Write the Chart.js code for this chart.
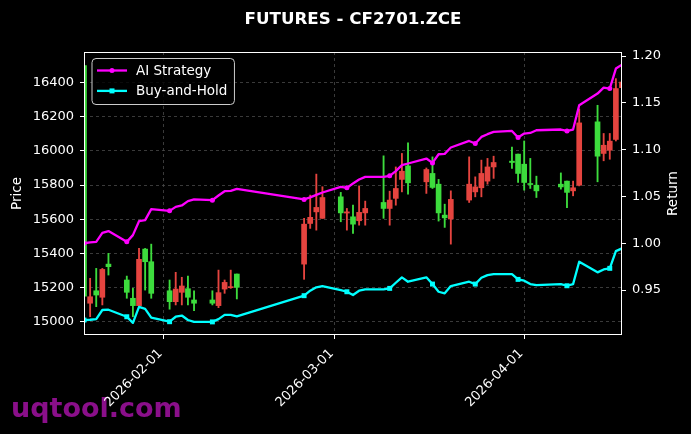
<!DOCTYPE html>
<html>
<head>
<meta charset="utf-8">
<script src="https://cdn.jsdelivr.net/npm/chart.js@4.4.1/dist/chart.umd.min.js"></script>
<style>
  html, body { margin: 0; padding: 0; background: #000; }
</style>
</head>
<body>
<canvas id="chart" width="691" height="434"></canvas>
<script>
// trading days shown on the chart
const dates = [
  '2026-01-19', '2026-01-20', '2026-01-21', '2026-01-22', '2026-01-23',
  '2026-01-26', '2026-01-27', '2026-01-28', '2026-01-29', '2026-01-30',
  '2026-02-02', '2026-02-03', '2026-02-04', '2026-02-05', '2026-02-06',
  '2026-02-09', '2026-02-10', '2026-02-11', '2026-02-12', '2026-02-13',
  '2026-02-24', '2026-02-25', '2026-02-26', '2026-02-27',
  '2026-03-02', '2026-03-03', '2026-03-04', '2026-03-05', '2026-03-06',
  '2026-03-09', '2026-03-10', '2026-03-11', '2026-03-12', '2026-03-13',
  '2026-03-16', '2026-03-17', '2026-03-18', '2026-03-19', '2026-03-20',
  '2026-03-23', '2026-03-24', '2026-03-25', '2026-03-26', '2026-03-27',
  '2026-03-30', '2026-03-31', '2026-04-01', '2026-04-02', '2026-04-03',
  '2026-04-07', '2026-04-08', '2026-04-09', '2026-04-10',
  '2026-04-13', '2026-04-14', '2026-04-15', '2026-04-16', '2026-04-17'
];

// OHLC prices
const opens = [
  16500, 15108, 15181, 15143, 15337, 15244, 15137, 15094, 15425, 15351,
  15181, 15117, 15172, 15193, 15127, 15127, 15094, 15191, 15199, 15279,
  15337, 15575, 15643, 15605, 15731, 15636, 15614, 15591, 15637,
  15698, 15663, 15722, 15833, 15912, 15819, 15868, 15805, 15624, 15601,
  15712, 15760, 15784, 15823, 15906, 15940, 15981, 15922, 15808, 15799,
  15805, 15823, 15766, 15799, 16170, 15985, 16004, 16067, 16370
];
const highs = [
  16510, 15254, 15312, 15312, 15400, 15267, 15195, 15429, 15429, 15454,
  15244, 15289, 15260, 15267, 15181, 15181, 15302, 15244, 15302, 15279,
  15605, 15741, 15864, 15790, 15757, 15663, 15682, 15795, 15706,
  15971, 15764, 15906, 15985, 16047, 15900, 15965, 15833, 15688, 15766,
  15965, 15848, 15946, 15956, 15969, 16023, 15981, 16058, 15956, 15852,
  15871, 15823, 15823, 16245, 16267, 16102, 16102, 16423, 16410
];
const lows = [
  15140, 15029, 15088, 15098, 15273, 15137, 15029, 15088, 15185, 15137,
  15073, 15098, 15098, 15098, 15064, 15098, 15082, 15166, 15195, 15133,
  15248, 15546, 15536, 15605, 15585, 15536, 15517, 15565, 15565,
  15605, 15565, 15682, 15760, 15747, 15751, 15780, 15589, 15552, 15454,
  15698, 15731, 15731, 15805, 15839, 15897, 15815, 15770, 15780, 15727,
  15776, 15667, 15737, 15795, 15819, 15942, 15951, 16058, 16360
];
const closes = [
  15150, 15146, 15156, 15306, 15322, 15172, 15094, 15365, 15351, 15166,
  15117, 15191, 15209, 15143, 15108, 15108, 15170, 15230, 15205, 15201,
  15571, 15611, 15669, 15727, 15637, 15643, 15571, 15640, 15663,
  15663, 15712, 15780, 15881, 15813, 15891, 15786, 15637, 15608, 15716,
  15805, 15789, 15868, 15906, 15932, 15932, 15868, 15815, 15803, 15766,
  15789, 15757, 15784, 16164, 15969, 16033, 16057, 16365, 16403
];

// cumulative returns
const aiReturn = [
  1.000, 1.001, 1.0015, 1.011, 1.013, 1.0015, 1.0087, 1.0236, 1.0247, 1.0364,
  1.0346, 1.0389, 1.0404, 1.045, 1.0468, 1.046, 1.051, 1.0556, 1.056, 1.058,
  1.0468, 1.049, 1.0517, 1.0542, 1.0602, 1.0592, 1.0638, 1.0681, 1.0709,
  1.0709, 1.072, 1.077, 1.0834, 1.0852, 1.0905, 1.0858, 1.0951, 1.0955, 1.1023,
  1.1093, 1.1065, 1.1136, 1.1165, 1.1189, 1.12, 1.1129, 1.1172, 1.1178, 1.1207,
  1.1215, 1.12, 1.1215, 1.1474, 1.1599, 1.1663, 1.1652, 1.1866, 1.1908
];
const bhReturn = [
  0.918, 0.9183, 0.919, 0.9287, 0.929, 0.9215, 0.915, 0.932, 0.930, 0.9205,
  0.9162, 0.9215, 0.9228, 0.918, 0.916, 0.916, 0.919, 0.9235, 0.9235, 0.922,
  0.944, 0.9493, 0.9529, 0.9543, 0.95, 0.9482, 0.9447, 0.9493, 0.9507,
  0.9507, 0.9518, 0.9578, 0.9636, 0.9589, 0.9636, 0.9564, 0.9482, 0.9465, 0.9543,
  0.9589, 0.9564, 0.9631, 0.966, 0.967, 0.967, 0.9614, 0.96, 0.9564, 0.9553,
  0.9564, 0.9546, 0.9564, 0.9802, 0.9689, 0.972, 0.9732, 0.9916, 0.9945
];

// axis ticks
const dateTicks = ['2026-02-01', '2026-03-01', '2026-04-01'];
const priceTicks = [15000, 15200, 15400, 15600, 15800, 16000, 16200, 16400];
const returnTicks = [0.95, 1.00, 1.05, 1.10, 1.15, 1.20];

const FONT = 'DejaVu Sans';
const UP = '#e5443f';
const DOWN = '#3ddc3d';
const DAY = 86400000;
const t0 = Date.parse(dates[0]);
const dayOf = d => Math.round((Date.parse(d) - t0) / DAY);
const xs = dates.map(dayOf);
const tickDays = dateTicks.map(dayOf);
const candleColors = opens.map((o, i) => closes[i] >= o ? UP : DOWN);

// background, watermark, frame, title, axis titles and legend
const decor = {
  id: 'decor',
  beforeDraw(chart) {
    const c = chart.ctx;
    c.save();
    c.fillStyle = '#000';
    c.fillRect(0, 0, chart.width, chart.height);
    c.font = `bold 27px ${FONT}`;
    c.fillStyle = '#8a0f8a';
    c.textBaseline = 'alphabetic';
    c.fillText('uqtool.com', 11, 417);
    c.restore();
  },
  afterDraw(chart) {
    const c = chart.ctx;
    const a = chart.chartArea;
    c.save();

    // frame
    c.strokeStyle = '#fff';
    c.lineWidth = 1;
    c.strokeRect(a.left + 0.5, a.top + 0.5, a.right - a.left - 1, a.bottom - a.top - 1);

    // title
    c.fillStyle = '#fff';
    c.font = `bold 16.7px ${FONT}`;
    c.textAlign = 'center';
    c.textBaseline = 'alphabetic';
    c.fillText('FUTURES - CF2701.ZCE', (a.left + a.right) / 2, 24);

    // axis titles
    c.font = `13.5px ${FONT}`;
    c.textBaseline = 'middle';
    const midY = (a.top + a.bottom) / 2;
    c.save();
    c.translate(17, midY);
    c.rotate(-Math.PI / 2);
    c.fillText('Price', 0, 0);
    c.restore();
    c.save();
    c.translate(673, midY);
    c.rotate(-Math.PI / 2);
    c.fillText('Return', 0, 0);
    c.restore();

    // legend
    const items = chart.data.datasets.filter(d => d.type === 'line');
    const lx = a.left + 8, ly = a.top + 6.5;
    c.font = `13.5px ${FONT}`;
    const tw = Math.max(...items.map(d => c.measureText(d.label).width));
    const w = 5 + 30 + 9 + tw + 7, h = 46;
    c.beginPath();
    c.roundRect(lx, ly, w, h, 4);
    c.fillStyle = 'rgba(0,0,0,0.8)';
    c.fill();
    c.strokeStyle = '#cccccc';
    c.lineWidth = 1;
    c.stroke();
    c.textAlign = 'left';
    items.forEach((d, k) => {
      const y = ly + 12 + k * 20.4;
      c.strokeStyle = d.borderColor;
      c.lineWidth = d.borderWidth;
      c.beginPath();
      c.moveTo(lx + 5, y);
      c.lineTo(lx + 35, y);
      c.stroke();
      c.fillStyle = d.borderColor;
      if (d.pointStyle === 'rect') {
        c.fillRect(lx + 20 - 2.5, y - 2.5, 5, 5);
      } else {
        c.beginPath();
        c.arc(lx + 20, y, 2.5, 0, Math.PI * 2);
        c.fill();
      }
      c.fillStyle = '#fff';
      c.fillText(d.label, lx + 44, y + 0.5);
    });
    c.restore();
  }
};

const gridStyle = {
  color: '#4a4a4a',
  lineWidth: 0.8,
  tickColor: '#fff',
  tickLength: 4,
  tickWidth: 1,
  tickBorderDash: [],
  offset: false
};

new Chart(document.getElementById('chart'), {
  type: 'bar',
  data: {
    datasets: [
      {
        type: 'line',
        label: 'AI Strategy',
        data: xs.map((x, i) => ({ x: x, y: aiReturn[i] })),
        yAxisID: 'y1',
        borderColor: '#ff00ff',
        backgroundColor: '#ff00ff',
        borderWidth: 2.3,
        borderJoinStyle: 'round',
        pointStyle: 'circle',
        pointRadius: ctx => ctx.dataIndex % 5 === 0 ? 2.5 : 0,
        pointBorderWidth: 0,
        tension: 0,
        order: 1
      },
      {
        type: 'line',
        label: 'Buy-and-Hold',
        data: xs.map((x, i) => ({ x: x, y: bhReturn[i] })),
        yAxisID: 'y1',
        borderColor: '#00ffff',
        backgroundColor: '#00ffff',
        borderWidth: 2.3,
        borderJoinStyle: 'round',
        pointStyle: 'rect',
        pointRadius: ctx => ctx.dataIndex % 5 === 0 ? 3.5 : 0,
        pointBorderWidth: 0,
        tension: 0,
        order: 0
      },
      {
        label: 'Body',
        data: xs.map((x, i) => ({ x: x, y: [opens[i], closes[i]] })),
        yAxisID: 'y',
        backgroundColor: candleColors,
        grouped: false,
        categoryPercentage: 1,
        barPercentage: 1,
        maxBarThickness: 5,
        minBarLength: 1,
        borderWidth: 0,
        order: 2
      },
      {
        label: 'Wick',
        data: xs.map((x, i) => ({ x: x, y: [lows[i], highs[i]] })),
        yAxisID: 'y',
        backgroundColor: candleColors,
        grouped: false,
        categoryPercentage: 1,
        barPercentage: 1,
        maxBarThickness: 1.2,
        borderWidth: 0,
        order: 3
      }
    ]
  },
  options: {
    responsive: false,
    animation: false,
    devicePixelRatio: 1,
    layout: { padding: { top: 52, left: 0, right: 0, bottom: 0 } },
    plugins: {
      legend: { display: false },
      title: { display: false },
      tooltip: { enabled: false }
    },
    scales: {
      x: {
        type: 'linear',
        min: 0,
        max: xs[xs.length - 1],
        offset: false,
        afterBuildTicks: s => { s.ticks = tickDays.map(v => ({ value: v })); },
        afterFit: s => { s.height = 99; },
        ticks: {
          autoSkip: false,
          maxRotation: 45,
          minRotation: 45,
          color: '#fff',
          padding: 7,
          labelOffset: -3,
          font: { family: FONT, size: 13 },
          callback: v => dateTicks[tickDays.indexOf(v)]
        },
        grid: gridStyle,
        border: { display: false, dash: [3, 3] }
      },
      y: {
        position: 'left',
        min: 14922,
        max: 16579,
        afterBuildTicks: s => { s.ticks = priceTicks.map(v => ({ value: v })); },
        afterFit: s => { s.width = 84; },
        ticks: {
          color: '#fff',
          padding: 6,
          font: { family: FONT, size: 13 },
          callback: v => String(v)
        },
        grid: gridStyle,
        border: { display: false, dash: [3, 3] }
      },
      y1: {
        position: 'right',
        min: 0.902,
        max: 1.2043,
        afterBuildTicks: s => { s.ticks = returnTicks.map(v => ({ value: v })); },
        afterFit: s => { s.width = 69; },
        ticks: {
          color: '#fff',
          padding: 6,
          font: { family: FONT, size: 13 },
          callback: v => v.toFixed(2)
        },
        grid: Object.assign({}, gridStyle, { drawOnChartArea: false }),
        border: { display: false }
      }
    }
  },
  plugins: [decor]
});
</script>
</body>
</html>
